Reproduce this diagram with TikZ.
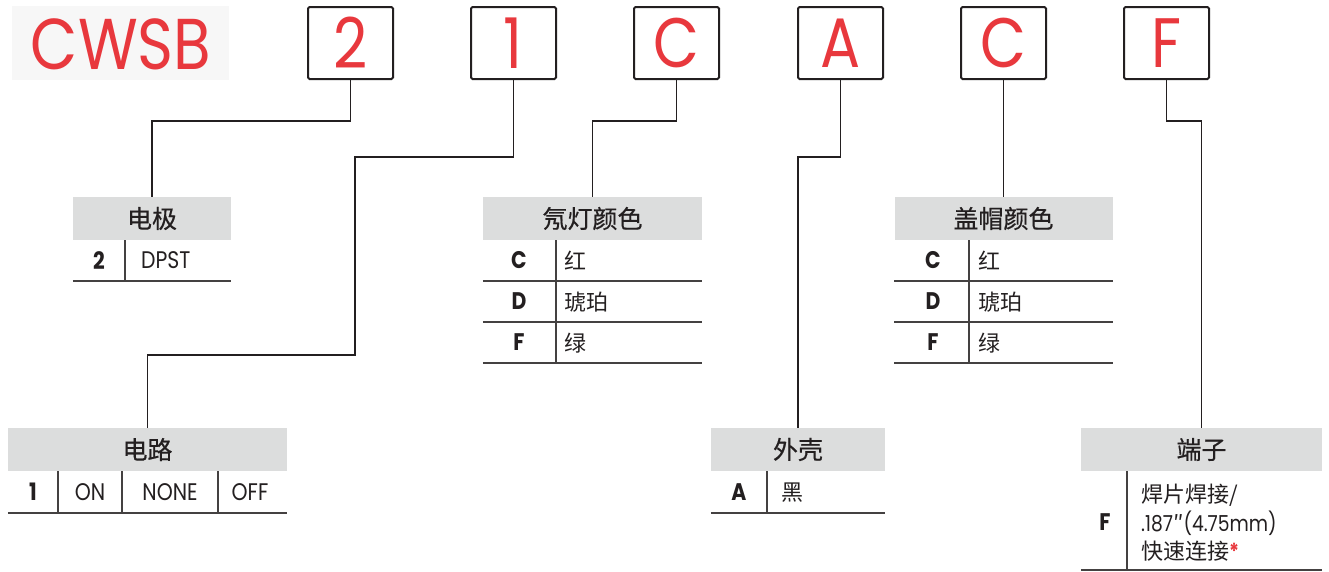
\documentclass[tikz,border=0pt]{standalone}
\usepackage{fontspec}
\newfontfamily\lat[FakeStretch=0.85]{Poppins}
\newfontfamily\cjk{Noto Sans CJK SC}
\newfontfamily\cjkh[FakeBold=0.5]{Noto Sans CJK SC}
\definecolor{redc}{HTML}{E8383D}
\definecolor{ink}{HTML}{231F20}
\definecolor{hdr}{HTML}{DCDDDD}
\definecolor{logobg}{HTML}{F7F7F7}
\tikzset{
  codebox/.style={draw=ink, line width=2pt, rounded corners=1.5pt, minimum width=85pt, minimum height=72pt, inner sep=0pt, text=redc, font=\lat\fontsize{70}{70}\selectfont},
  hdrbox/.style={fill=hdr, minimum height=43pt, inner sep=0pt, text=ink, font=\cjkh\fontsize{25}{25}\selectfont},
  conn/.style={draw=ink, line width=1.3pt},
  rule/.style={draw=ink!85, line width=1.6pt},
  key/.style={inner sep=0pt, text=ink, font=\lat\bfseries\fontsize{24}{24}\selectfont},
  val/.style={inner sep=0pt, text=ink, font=\lat\fontsize{24}{24}\selectfont},
  cval/.style={inner sep=0pt, text=ink, anchor=west, font=\cjk\fontsize{22}{22}\selectfont},
}
\begin{document}
\begin{tikzpicture}[x=1pt,y=-1pt]
\useasboundingbox (0,0) rectangle (1329,571);
% logo
\node[fill=logobg, minimum width=217pt, minimum height=74pt, inner sep=0pt] (logo) at (120.5,43) {};
\node[inner sep=0pt, text=redc, font=\lat\fontsize{72}{72}\selectfont] (logotext) at (121,44) {CWSB};
% code boxes
\node[codebox] (b2) at (350.5,43) {2};
\node[codebox] (b1) at (513.5,43) {1};
\node[codebox] (bC) at (676.5,43) {C};
\node[codebox] (bA) at (840.5,43) {A};
\node[codebox] (bC2) at (1003.5,43) {C};
\node[codebox] (bF) at (1166.5,43) {F};
% headers
\node[hdrbox, minimum width=158pt] (hA) at (152,218.5) {电极};
\node[hdrbox, minimum width=279pt] (hB) at (147.5,449.5) {电路};
\node[hdrbox, minimum width=219pt] (hC) at (592.5,218.5) {氖灯颜色};
\node[hdrbox, minimum width=174pt] (hD) at (798,449.5) {外壳};
\node[hdrbox, minimum width=218pt] (hE) at (1003.5,218.5) {盖帽颜色};
\node[hdrbox, minimum width=241pt] (hF) at (1201.5,449.5) {端子};
% connectors
\draw[conn] (b2.south) -- (b2.south |- 0,121) -| (hA.north);
\draw[conn] (b1.south) |- (355,157) -- (355,355) -| (hB.north);
\draw[conn] (bC.south) -- (bC.south |- 0,121) -| (hC.north);
\draw[conn] (bA.south) -- (bA.south |- 0,157) -| (hD.north);
\draw[conn] (bC2.south) -- (hE.north);
\draw[conn] (bF.south) -- (bF.south |- 0,121) -| (hF.north);
% table A
\draw[rule] (hA.south west |- 0,281) -- (hA.south east |- 0,281);
\draw[rule] (125,240) -- (125,281);
\node[key] (a1) at (99,260.5) {2};
\node[val, anchor=west] (a2) at (141,260.5) {DPST};
% table B
\draw[rule] (hB.south west |- 0,513) -- (hB.south east |- 0,513);
\draw[rule] (58,471) -- (58,513);
\draw[rule] (122,471) -- (122,513);
\draw[rule] (218,471) -- (218,513);
\node[key] (bb1) at (33,492) {1};
\node[val] (bb2) at (90,492) {ON};
\node[val] (bb3) at (170,492) {NONE};
\node[val] (bb4) at (250,492) {OFF};
% table C
\draw[rule] (hC.south west |- 0,281) -- (hC.south east |- 0,281);
\draw[rule] (hC.south west |- 0,322) -- (hC.south east |- 0,322);
\draw[rule] (hC.south west |- 0,363) -- (hC.south east |- 0,363);
\draw[rule] (556,240) -- (556,363);
\node[key] (c1) at (519,260.5) {C};
\node[key] (c2) at (519,301.5) {D};
\node[key] (c3) at (519,342.5) {F};
\node[cval] (c4) at (564,261) {红};
\node[cval] (c5) at (564,302) {琥珀};
\node[cval] (c6) at (564,343) {绿};
% table D
\draw[rule] (hD.south west |- 0,513) -- (hD.south east |- 0,513);
\draw[rule] (767,471) -- (767,513);
\node[key] (d1) at (739,492) {A};
\node[cval] (d2) at (781,493) {黑};
% table E
\draw[rule] (hE.south west |- 0,281) -- (hE.south east |- 0,281);
\draw[rule] (hE.south west |- 0,322) -- (hE.south east |- 0,322);
\draw[rule] (hE.south west |- 0,363) -- (hE.south east |- 0,363);
\draw[rule] (969,240) -- (969,363);
\node[key] (e1) at (933,260.5) {C};
\node[key] (e2) at (933,301.5) {D};
\node[key] (e3) at (933,342.5) {F};
\node[cval] (e4) at (978,261) {红};
\node[cval] (e5) at (978,302) {琥珀};
\node[cval] (e6) at (978,343) {绿};
% table F
\draw[rule] (hF.south west |- 0,570) -- (hF.south east |- 0,570);
\draw[rule] (1127,471) -- (1127,570);
\node[key] (f1) at (1105,522) {F};
\node[cval] (f2) at (1141,495) {焊片焊接/};
\node[val, anchor=west, font=\lat\fontsize{22}{22}\selectfont] (f3) at (1141,523) {.187{\cjk ″}(4.75mm)};
\node[cval] (f4) at (1141,551) {快速连接{\color{redc}\lat\bfseries *}};
\end{tikzpicture}
\end{document}
